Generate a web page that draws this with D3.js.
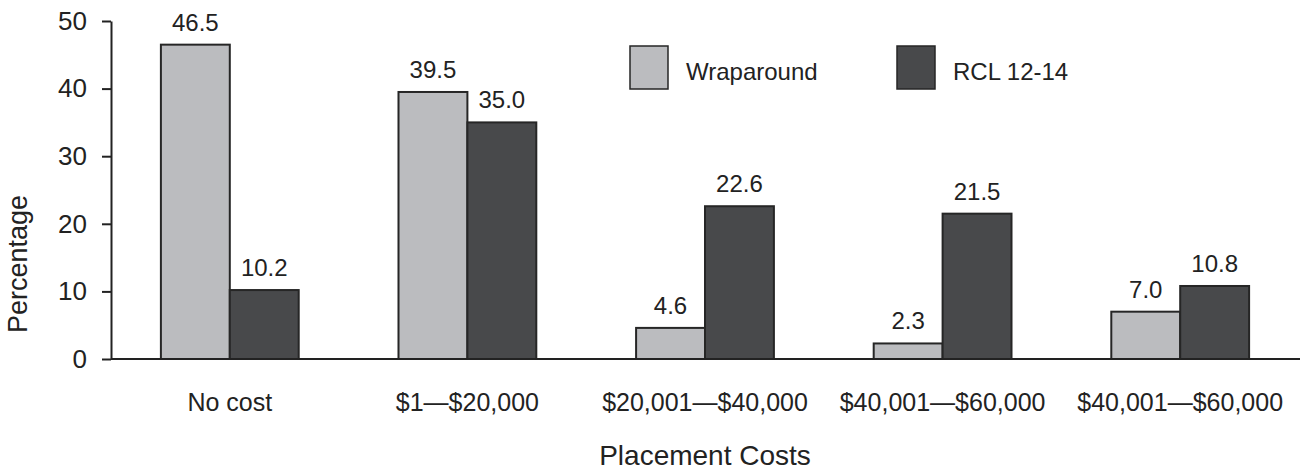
<!DOCTYPE html>
<html>
<head>
<meta charset="utf-8">
<script src="https://cdn.jsdelivr.net/npm/d3@7"></script>
<style>
  html, body { margin: 0; padding: 0; background: #fff; }
  svg { display: block; font-family: "Liberation Sans", Arial, Helvetica, sans-serif; }
  text { fill: #222; }
</style>
</head>
<body>
<svg id="chart" width="1311" height="470"></svg>
<script>
// Placement cost categories and the share of youth (%) in each program
const categories = ["No cost", "$1\u2014$20,000", "$20,001\u2014$40,000", "$40,001\u2014$60,000", "$40,001\u2014$60,000"];
const seriesNames = ["Wraparound", "RCL 12-14"];
const wraparound = [46.5, 39.5, 4.6, 2.3, 7.0];
const rcl = [10.2, 35.0, 22.6, 21.5, 10.8];
const yTicks = [0, 10, 20, 30, 40, 50];

const colors = { "Wraparound": "#bbbcbf", "RCL 12-14": "#48494b" };
const strokeCol = "#262626";

const svg = d3.select("#chart");

const x0 = d3.scaleBand()
  .domain(d3.range(categories.length))
  .range([111, 1299])
  .paddingInner(0.42)
  .paddingOuter(0.21);

const x1 = d3.scaleBand()
  .domain(seriesNames)
  .range([0, x0.bandwidth()]);

const y = d3.scaleLinear().domain([0, 50]).range([359, 21]);

const rows = categories.map((c, i) => ({
  i,
  values: [
    { key: "Wraparound", value: wraparound[i] },
    { key: "RCL 12-14", value: rcl[i] }
  ]
}));

// Bars
const groups = svg.append("g").selectAll("g")
  .data(rows)
  .join("g")
  .attr("transform", d => `translate(${x0(d.i)},0)`);

groups.selectAll("rect")
  .data(d => d.values)
  .join("rect")
  .attr("x", d => x1(d.key))
  .attr("y", d => y(d.value))
  .attr("width", x1.bandwidth())
  .attr("height", d => y(0) - y(d.value))
  .attr("fill", d => colors[d.key])
  .attr("stroke", strokeCol)
  .attr("stroke-width", 2);

// Value labels
groups.selectAll("text.val")
  .data(d => d.values)
  .join("text")
  .attr("class", "val")
  .attr("x", d => x1(d.key) + x1.bandwidth() / 2)
  .attr("y", d => y(d.value) - 14)
  .attr("text-anchor", "middle")
  .attr("font-size", 24)
  .text(d => d.value.toFixed(1));

// Baseline (x axis line)
svg.append("line")
  .attr("x1", 111).attr("x2", 1300)
  .attr("y1", y(0)).attr("y2", y(0))
  .attr("stroke", "#222").attr("stroke-width", 2);

// Y axis
const yAxis = d3.axisLeft(y)
  .tickValues(yTicks)
  .tickSize(9)
  .tickSizeOuter(0)
  .tickPadding(15);

const gy = svg.append("g")
  .attr("transform", "translate(111,0)")
  .call(yAxis);
gy.select(".domain").attr("stroke", "#222").attr("stroke-width", 2);
gy.selectAll(".tick line").attr("stroke", "#222").attr("stroke-width", 2);
gy.selectAll(".tick text")
  .attr("font-size", 26)
  .attr("font-family", "Liberation Sans, Arial, sans-serif")
  .attr("fill", "#222");

// Category labels
svg.append("g").selectAll("text")
  .data(rows)
  .join("text")
  .attr("x", d => x0(d.i) + x0.bandwidth() / 2)
  .attr("y", 411)
  .attr("text-anchor", "middle")
  .attr("font-size", 25)
  .text(d => categories[d.i]);

// Axis titles
svg.append("text")
  .attr("x", 705)
  .attr("y", 465)
  .attr("text-anchor", "middle")
  .attr("font-size", 28)
  .text("Placement Costs");

svg.append("text")
  .attr("transform", "translate(27,264) rotate(-90)")
  .attr("text-anchor", "middle")
  .attr("font-size", 27)
  .text("Percentage");

// Legend
const legendX = [630, 897];
const legend = svg.append("g").selectAll("g")
  .data(seriesNames)
  .join("g")
  .attr("transform", (d, i) => `translate(${legendX[i]},46)`);

legend.append("rect")
  .attr("width", 38)
  .attr("height", 43)
  .attr("fill", d => colors[d])
  .attr("stroke", strokeCol)
  .attr("stroke-width", 1.5);

legend.append("text")
  .attr("x", 56)
  .attr("y", 34)
  .attr("font-size", 24)
  .text(d => d);
</script>
</body>
</html>
